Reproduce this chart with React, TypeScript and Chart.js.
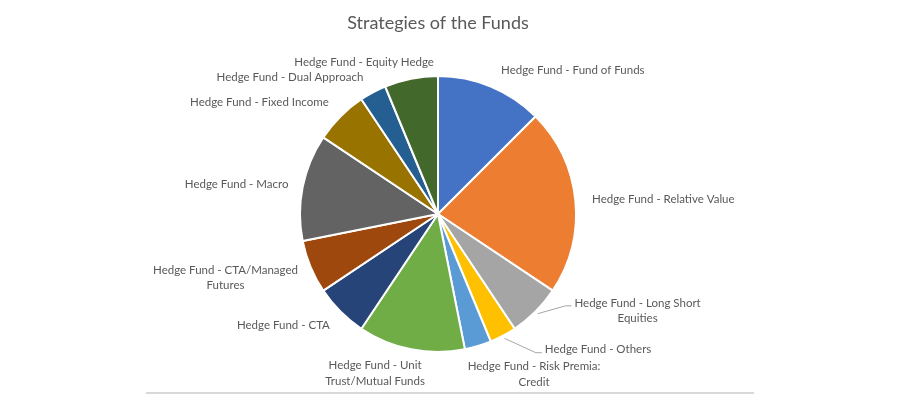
import React, { useEffect, useRef } from "react";
import { Chart, registerables } from "chart.js";

Chart.register(...registerables);

// ---- data ----
const strategies: (string | string[])[] = [
  "Hedge Fund - Fund of Funds",
  "Hedge Fund - Relative Value",
  ["Hedge Fund - Long Short", "Equities"],
  "Hedge Fund - Others",
  ["Hedge Fund - Risk Premia:", "Credit"],
  ["Hedge Fund - Unit", "Trust/Mutual Funds"],
  "Hedge Fund - CTA",
  ["Hedge Fund - CTA/Managed", "Futures"],
  "Hedge Fund - Macro",
  "Hedge Fund - Fixed Income",
  "Hedge Fund - Dual Approach",
  "Hedge Fund - Equity Hedge",
];
const fundCounts = [4, 7, 2, 1, 1, 4, 2, 2, 4, 2, 1, 2];
const sliceColors = [
  "#4472C4", "#ED7D31", "#A5A5A5", "#FFC000", "#5B9BD5", "#70AD47",
  "#264478", "#9E480E", "#636363", "#997300", "#255E91", "#43682B",
];
const chartTitle = "Strategies of the Funds";

// ---- label layout (offset of label block centre from slice's outer mid-point) ----
const labelOffsets: [number, number][] = [
  [82, -16], [88, -1], [102, -1], [95, 14], [56, 28], [-36, 24],
  [-57, 14], [-85, 11], [-66, -3], [-81, -14], [-83, -15], [-47, -16],
];
const hasLeader = [false, false, true, true, false, false, false, false, false, false, false, false];

const FONT = "Lato, 'Open Sans', sans-serif";
const TEXT_COLOR = "#595959";
const LABEL_SIZE = 11.5;
const LINE_H = 15.5;

const outsideLabels = {
  id: "outsideLabels",
  afterDatasetsDraw(chart: any) {
    const ctx = chart.ctx as CanvasRenderingContext2D;
    const meta = chart.getDatasetMeta(0);
    ctx.save();
    ctx.font = `${LABEL_SIZE}px ${FONT}`;
    ctx.fillStyle = TEXT_COLOR;
    ctx.textAlign = "center";
    ctx.textBaseline = "middle";
    meta.data.forEach((arc: any, i: number) => {
      const { x, y, startAngle, endAngle, outerRadius } = arc.getProps(
        ["x", "y", "startAngle", "endAngle", "outerRadius"], true
      );
      const mid = (startAngle + endAngle) / 2;
      const px = x + Math.cos(mid) * outerRadius;
      const py = y + Math.sin(mid) * outerRadius;
      const lab = strategies[i];
      const lines = Array.isArray(lab) ? lab : [lab];
      const cx = px + labelOffsets[i][0];
      const cy = py + labelOffsets[i][1];
      const top = cy - ((lines.length - 1) * LINE_H) / 2;
      lines.forEach((l, k) => ctx.fillText(l, cx, top + k * LINE_H));
      if (hasLeader[i]) {
        const w = ctx.measureText(lines[0]).width;
        const left = cx - w / 2;
        const sx = x + Math.cos(mid) * (outerRadius + 3);
        const sy = y + Math.sin(mid) * (outerRadius + 3);
        const ey = top + 3;
        ctx.save();
        ctx.strokeStyle = "#A6A6A6";
        ctx.lineWidth = 1;
        ctx.beginPath();
        ctx.moveTo(sx, sy);
        ctx.lineTo(left - 9, ey);
        ctx.lineTo(left - 3, ey);
        ctx.stroke();
        ctx.restore();
      }
    });
    // frame bottom rule
    ctx.strokeStyle = "#D9D9D9";
    ctx.lineWidth = 2;
    ctx.beginPath();
    ctx.moveTo(146, 393);
    ctx.lineTo(754, 393);
    ctx.stroke();
    ctx.restore();
  },
};

export default function App() {
  const ref = useRef<HTMLCanvasElement | null>(null);
  useEffect(() => {
    if (!ref.current) return;
    const chart = new Chart(ref.current, {
      type: "pie",
      data: {
        labels: strategies,
        datasets: [
          {
            data: fundCounts,
            backgroundColor: sliceColors,
            borderColor: "#FFFFFF",
            borderWidth: 2,
          },
        ],
      },
      options: {
        responsive: false,
        animation: false,
        events: [],
        layout: { padding: { left: 299, right: 323, top: 0, bottom: 47 } },
        plugins: {
          legend: { display: false },
          tooltip: { enabled: false },
          title: {
            display: true,
            text: chartTitle,
            color: TEXT_COLOR,
            font: { family: FONT, size: 18, weight: "normal", lineHeight: 1.2 },
            padding: { top: 12.6, bottom: 40.8 },
          },
        },
      },
      plugins: [outsideLabels],
    });
    return () => chart.destroy();
  }, []);
  return (
    <div style={{ position: "fixed", left: 0, top: 0, width: 900, height: 400, background: "#fff" }}>
      <canvas ref={ref} width={900} height={400} style={{ display: "block" }} />
    </div>
  );
}
